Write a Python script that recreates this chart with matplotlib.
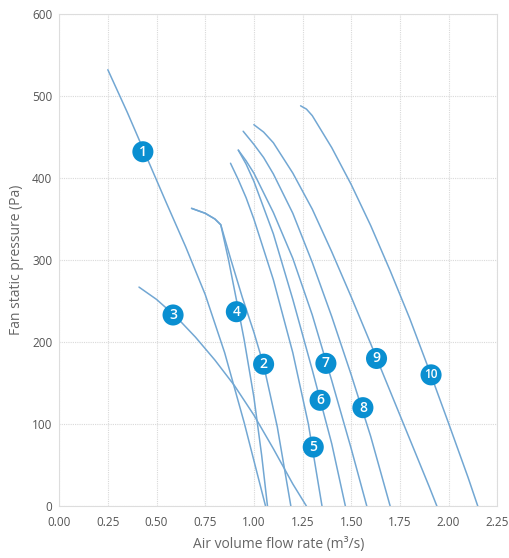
import matplotlib.pyplot as plt

# fan curves: (flow m3/s, static pressure Pa)
fan_1_x = [0.25, 0.35, 0.45, 0.55, 0.65, 0.75, 0.85, 0.95, 1.06]
fan_1_y = [532, 480, 425, 370, 316, 258, 187, 102, 0]

fan_2_x = [0.68, 0.75, 0.80, 0.83, 0.88, 0.94, 1.00, 1.05, 1.12, 1.19]
fan_2_y = [363, 357, 350, 343, 302, 255, 212, 172, 97, 0]

fan_3_x = [0.41, 0.50, 0.60, 0.70, 0.80, 0.90, 1.00, 1.10, 1.20, 1.27]
fan_3_y = [267, 252, 231, 206, 178, 147, 111, 70, 27, 0]

fan_4_x = [0.68, 0.75, 0.80, 0.83, 0.87, 0.91, 0.95, 1.00, 1.04, 1.07]
fan_4_y = [363, 357, 350, 343, 300, 252, 203, 133, 62, 0]

fan_5_x = [0.88, 0.92, 0.96, 1.00, 1.10, 1.20, 1.28, 1.35]
fan_5_y = [418, 398, 376, 350, 276, 187, 100, 0]

fan_6_x = [0.92, 0.96, 1.00, 1.10, 1.20, 1.30, 1.40, 1.47]
fan_6_y = [434, 417, 396, 332, 252, 166, 76, 0]

fan_7_x = [0.92, 0.96, 1.00, 1.10, 1.20, 1.30, 1.40, 1.50, 1.58]
fan_7_y = [434, 421, 406, 358, 302, 233, 153, 70, 0]

fan_8_x = [0.945, 1.00, 1.05, 1.10, 1.20, 1.30, 1.40, 1.50, 1.60, 1.70]
fan_8_y = [457, 441, 425, 405, 357, 297, 231, 160, 85, 0]

fan_9_x = [1.00, 1.05, 1.10, 1.20, 1.30, 1.40, 1.50, 1.60, 1.70, 1.80, 1.90, 1.94]
fan_9_y = [465, 456, 443, 406, 362, 310, 255, 198, 140, 82, 24, 0]

fan_10_x = [1.24, 1.27, 1.30, 1.40, 1.50, 1.60, 1.70, 1.80, 1.90, 2.00, 2.10, 2.15]
fan_10_y = [488, 484, 476, 437, 392, 342, 287, 229, 166, 101, 35, 0]

curves = [(fan_1_x, fan_1_y), (fan_2_x, fan_2_y), (fan_3_x, fan_3_y),
          (fan_4_x, fan_4_y), (fan_5_x, fan_5_y), (fan_6_x, fan_6_y),
          (fan_7_x, fan_7_y), (fan_8_x, fan_8_y), (fan_9_x, fan_9_y),
          (fan_10_x, fan_10_y)]

# numbered badges
badge_text = ["1", "2", "3", "4", "5", "6", "7", "8", "9", "10"]
badge_x = [0.43, 1.05, 0.585, 0.91, 1.305, 1.34, 1.37, 1.56, 1.63, 1.91]
badge_y = [432, 173, 233, 237, 72, 129, 174, 120, 180, 160]

x_ticks = [0.00, 0.25, 0.50, 0.75, 1.00, 1.25, 1.50, 1.75, 2.00, 2.25]
y_ticks = [0, 100, 200, 300, 400, 500, 600]

fig = plt.figure(figsize=(5.1, 5.58), dpi=100)
ax = fig.add_axes([0.116, 0.093, 0.859, 0.882])

for cx, cy in curves:
  ax.plot(cx, cy, color="#72a7d3", linewidth=1.1, solid_capstyle="round", solid_joinstyle="round")

ax.scatter(badge_x, badge_y, s=230, color="#0a8fd1", zorder=5, edgecolors="none")
for t, bx, by in zip(badge_text, badge_x, badge_y):
  ax.text(bx, by, t, color="white", fontsize=10 if len(t) == 1 else 8.5,
          ha="center", va="center", zorder=6, family="Open Sans", weight="semibold")

ax.set_xlim(0, 2.25)
ax.set_ylim(0, 600)
ax.set_xticks(x_ticks)
ax.set_xticklabels(["%.2f" % v for v in x_ticks])
ax.set_yticks(y_ticks)
ax.grid(True, color="#d9d9d9", linestyle=(0, (1, 1)), linewidth=0.8)
for s in ax.spines.values():
  s.set_color("#dddddd")
  s.set_linestyle((0, (1, 1)))
  s.set_linewidth(0.8)
ax.tick_params(axis="x", length=0, labelsize=8.5, labelcolor="#555555", pad=7)
ax.tick_params(axis="y", length=0, labelsize=8.5, labelcolor="#555555", pad=5)
for lbl in ax.get_xticklabels() + ax.get_yticklabels():
  lbl.set_family("Open Sans")
ax.set_xlabel("Air volume flow rate (m\u00b3/s)", fontsize=10, color="#666666", family="Open Sans", labelpad=6)
ax.set_ylabel("Fan static pressure (Pa)", fontsize=10, color="#666666", family="Open Sans", labelpad=6)

fig.savefig("out.png", dpi=100)
